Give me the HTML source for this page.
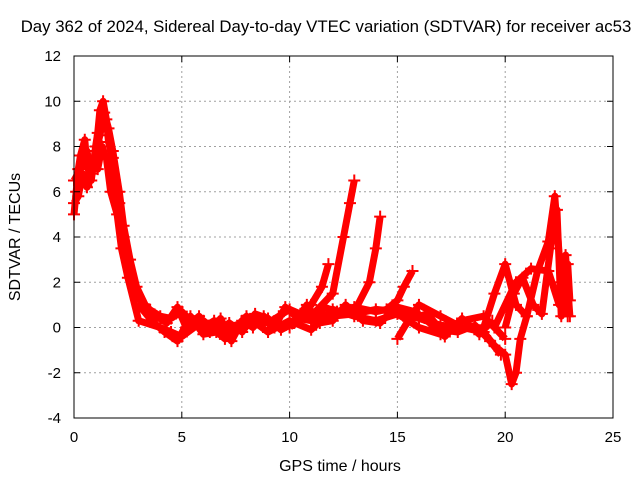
<!DOCTYPE html>
<html><head><meta charset="utf-8"><style>
body{margin:0;background:#fff;width:640px;height:480px;overflow:hidden}
text{font-family:"Liberation Sans",sans-serif;font-size:15px;fill:#000}
</style></head><body>
<svg id="c" width="640" height="480">
<text x="326" y="32" text-anchor="middle" style="font-size:16.8px">Day 362 of 2024, Sidereal Day-to-day VTEC variation (SDTVAR) for receiver ac53</text>
<text x="340" y="471" text-anchor="middle" style="font-size:16px">GPS time / hours</text>
<text transform="translate(20,237) rotate(-90)" text-anchor="middle" style="font-size:16px">SDTVAR / TECUs</text>
<g id="grid"></g><g id="marks"></g><g id="axes"></g>
</svg>
<script>
const xTicks=[0,5,10,15,20,25];
const yTicks=[-4,-2,0,2,4,6,8,10,12];
const track1=[[0,5],[0.1,6],[0.2,7],[0.3,7.6],[0.5,8.3],[0.6,7.2],[0.8,6.5],[0.9,7.2],[1.0,8],[1.1,8.6],[1.2,9.6],[1.35,10],[1.5,9.2],[1.6,8.2],[1.8,7.5],[1.9,6.5],[2.1,5.5],[2.3,4],[2.5,3],[2.7,2],[3,1.3],[3.5,0.8],[4,0.5],[4.5,0.4],[5,0.7],[5.5,0.2],[6,0],[6.5,0.3],[7,-0.4],[7.5,0],[8,0.2],[8.5,0.3],[9,0.2],[9.5,0.5],[10,0.8],[10.5,0.6],[11,0.7],[12,0.5],[13,0.6],[14,0.8],[15,0.7],[16,0.4],[17,0.1],[18,0],[19,-0.2],[19.5,-0.8],[20,-1.2],[20.3,-2.5],[20.5,-2],[20.7,-0.5],[21,0.5]];
const track2=[[0,5.5],[0.2,5.8],[0.4,6.8],[0.6,6.2],[0.9,7.5],[1.1,7],[1.3,8],[1.5,7.5],[1.7,6],[2,5],[2.2,3.5],[2.5,2.2],[3,0.3],[4,0],[4.5,-0.2],[5,-0.4],[6,0.3],[7,-0.5],[8,0.5],[9,-0.2],[10,0.3],[11,-0.1],[12,0.8],[13,0.5],[14,0.3],[15,0.6],[16,0],[17,-0.3],[18,0.3],[19,0.5],[20,-0.5]];
const track3=[[10,0],[11,1],[11.5,1.8],[11.8,2.8]];
const track4=[[11,0.5],[12,1.5],[12.5,4],[12.8,5.5],[13,6.5]];
const track5=[[13,0.7],[13.7,2],[14,3.5],[14.2,4.9]];
const track6=[[14.5,0.8],[15,1.2],[15.3,1.8],[15.7,2.5]];
const track7=[[15,-0.5],[15.5,0.3],[16,1],[17,0.5],[18,0]];
const track8=[[19,0],[19.5,1.5],[20,2.8],[20.5,1],[21,0.5],[21.5,2.5],[22,3.8],[22.3,5.8],[22.6,2],[22.9,0.5]];
const track9=[[19.5,0],[20.5,2],[21.2,2.6],[22,2.5],[22.5,1],[22.8,3.2],[23,0.5]];
const track10=[[0,6.5],[0.3,7],[0.6,7.8],[0.8,6.8],[1.2,8.5],[1.4,9.5],[1.6,8.8],[1.8,7.8],[2.1,6],[2.3,4.5],[2.6,3],[2.9,1.8],[3.3,1],[3.8,0.5],[4.3,0.2],[4.8,0.9],[5.2,0],[5.8,0.5],[6.3,-0.2],[6.8,0.4],[7.3,-0.6],[7.8,0.3],[8.3,0],[8.8,0.5],[9.3,0],[9.8,0.9],[10.4,0.4],[11,0.3],[11.6,0.9],[12.2,0.7],[13,0.9],[14,0.7],[15,0.9],[15.8,0.7],[16.5,0.2],[17.2,-0.4],[18,0.4],[18.8,-0.3],[19.4,0.3]];
const track11=[[3,1],[3.6,0.3],[4.2,-0.2],[4.8,-0.6],[5.4,0.5],[6,-0.3],[6.6,-0.2],[7.2,0.2],[7.8,-0.2],[8.4,0.6],[9,0.4],[9.6,-0.1],[10.2,0.2],[10.8,1],[11.4,0.2],[12,0.3],[12.6,1],[13.4,0.3],[14.2,0.2],[14.8,0.8],[15.6,0.4],[16.4,0.6],[17,-0.1],[17.8,-0.2],[18.6,0.1],[19.3,-0.6],[19.8,-1.2]];
const track12=[[20,0],[20.4,1.5],[20.8,2.2],[21.3,1],[21.7,0.6],[22.1,3.5],[22.4,5.2],[22.6,0.5],[22.9,2.8],[23,1.2]];
const tracks=[track1,track2,track3,track4,track5,track6,track7,track8,track9,track10,track11,track12];
const L=74,R=613,T=56,B=418;
const sx=v=>L+(v-0)/(25-0)*(R-L);
const sy=v=>B-(v+4)/(16)*(B-T);
const NS="http://www.w3.org/2000/svg";
function mk(t,a,p){const e=document.createElementNS(NS,t);for(const k in a)e.setAttribute(k,a[k]);p.appendChild(e);return e;}
const grid=document.getElementById('grid'),axes=document.getElementById('axes'),marks=document.getElementById('marks');
xTicks.forEach(v=>{
 if(v>0&&v<25){const g=mk('line',{x1:sx(v),x2:sx(v),y1:T,y2:B,stroke:'#a0a0a0','stroke-dasharray':'2,3'},grid);}
 mk('line',{x1:sx(v),x2:sx(v),y1:B,y2:B-6,stroke:'#000'},axes);mk('line',{x1:sx(v),x2:sx(v),y1:T,y2:T+6,stroke:'#000'},axes);
 const t=mk('text',{x:sx(v),y:B+24,'text-anchor':'middle'},axes);t.textContent=v;
 
 
});
yTicks.forEach(v=>{
 if(v>-4&&v<12){const g=mk('line',{x1:L,x2:R,y1:sy(v),y2:sy(v),stroke:'#a0a0a0','stroke-dasharray':'2,3'},grid);}
 mk('line',{x1:L,x2:L+6,y1:sy(v),y2:sy(v),stroke:'#000'},axes);mk('line',{x1:R,x2:R-6,y1:sy(v),y2:sy(v),stroke:'#000'},axes);
 const t=mk('text',{x:L-13,y:sy(v)+5,'text-anchor':'end'},axes);t.textContent=v;
 
 
});
const fr=mk('rect',{x:L,y:T,width:R-L,height:B-T,fill:'none',stroke:'#000'},axes);


tracks.forEach(tr=>{
 const pl=mk('polyline',{points:tr.map(p=>sx(p[0])+','+sy(p[1])).join(' '),fill:'none',stroke:'#f00','stroke-width':7,'stroke-linejoin':'round'},marks);
 
 
 tr.forEach(p=>{const x=sx(p[0]),y=sy(p[1]);
  const m=mk('path',{d:`M${x-6},${y}H${x+6}M${x},${y-6}V${y+6}`,stroke:'#f00','stroke-width':2},marks);
  
  
 });
});
</script>
</body></html>
